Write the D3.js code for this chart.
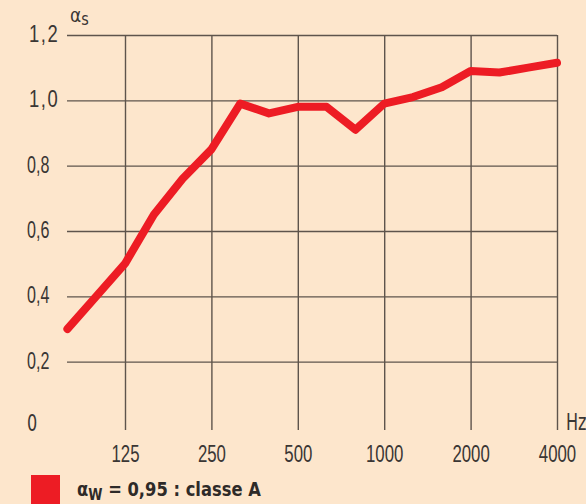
<!DOCTYPE html>
<html>
<head>
<meta charset="utf-8">
<script src="https://cdn.jsdelivr.net/npm/d3@7"></script>
<style>
  html, body { margin: 0; padding: 0; background: #fde6cc; }
  svg { display: block; }
</style>
</head>
<body>
<div id="chart"></div>
<script>
// third-octave bands and the measured alpha_s
const bands = ["80", "100", "125", "160", "200", "250", "315", "400", "500",
  "630", "800", "1000", "1250", "1600", "2000", "2500", "3150", "4000"];
const alphaS = [0.30, 0.40, 0.50, 0.65, 0.76, 0.85, 0.99, 0.96, 0.98,
  0.98, 0.91, 0.99, 1.01, 1.04, 1.09, 1.085, 1.10, 1.115];
const xTicks = ["125", "250", "500", "1000", "2000", "4000"];
const yTicks = [0.2, 0.4, 0.6, 0.8, 1.0, 1.2];
const legendLabel = " = 0,95 : classe A";

const width = 586, height = 504;
const gridColor = "#5e544c";
const textColor = "#3a3634";
const squeeze = "scale(0.7,1)";

const svg = d3.select("#chart").append("svg")
  .attr("width", width)
  .attr("height", height)
  .style("font-family", "'DejaVu Sans', sans-serif");

svg.append("rect")
  .attr("width", width)
  .attr("height", height)
  .attr("fill", "#fde6cc");

const x = d3.scalePoint().domain(bands).range([67.4, 557]);
const y = d3.scaleLinear().domain([0, 1.2]).range([427, 35]);

// horizontal grid + y labels
const yAxis = svg.append("g")
  .attr("transform", "translate(67,0)")
  .call(d3.axisLeft(y).tickValues(yTicks).tickSize(-490)
    .tickFormat(d => d3.format(".1f")(d).replace(".", ",")));
yAxis.select(".domain").remove();
yAxis.selectAll("line").attr("stroke", gridColor).attr("stroke-width", 1.4)
  .attr("x1", 0);
yAxis.selectAll("text")
  .attr("x", null)
  .attr("dy", "0.33em")
  .attr("text-anchor", "start")
  .attr("transform", d => (d >= 1 ? "translate(-38,-1) scale(0.8,1)" : "translate(-40,-1) " + squeeze))
  .style("letter-spacing", d => (d >= 1 ? "2px" : null))
  .attr("fill", textColor)
  .style("font-size", "23px");

// vertical grid + x labels
const xAxis = svg.append("g")
  .attr("transform", "translate(0,430)")
  .call(d3.axisBottom(x).tickValues(xTicks).tickSize(-395));
xAxis.select(".domain").remove();
xAxis.selectAll("line").attr("stroke", gridColor).attr("stroke-width", 1.4);
xAxis.selectAll("text")
  .attr("y", 32)
  .attr("dy", null)
  .attr("transform", squeeze)
  .attr("fill", textColor)
  .style("font-size", "24px");

// zero label, unit labels
svg.append("text")
  .attr("transform", `translate(27,${y(0) - 4}) ${squeeze}`)
  .attr("dy", "0.36em")
  .attr("fill", textColor)
  .style("font-size", "23px")
  .text("0");

svg.append("text")
  .attr("transform", `translate(566,${y(0) - 5}) ${squeeze}`)
  .attr("dy", "0.36em")
  .attr("fill", textColor)
  .style("font-size", "23px")
  .text("Hz");

const aLabel = svg.append("text")
  .attr("transform", "translate(70,22) scale(0.85,1)")
  .attr("fill", textColor)
  .style("font-size", "20px");
aLabel.append("tspan").text("α");
aLabel.append("tspan").attr("dy", 3).style("font-size", "17px").text("s");

// the curve
const line = d3.line()
  .x((d, i) => x(bands[i]))
  .y(d => y(d));

svg.append("path")
  .datum(alphaS)
  .attr("d", line)
  .attr("fill", "none")
  .attr("stroke", "#ed1c24")
  .attr("stroke-width", 8)
  .attr("stroke-linejoin", "round")
  .attr("stroke-linecap", "round");

// legend
svg.append("rect")
  .attr("x", 31)
  .attr("y", 475)
  .attr("width", 29)
  .attr("height", 30)
  .attr("fill", "#ed1c24");

const leg = svg.append("text")
  .attr("transform", "translate(77,496) scale(0.86,1)")
  .attr("fill", "#2e2a28")
  .style("font-size", "19px")
  .style("font-weight", "bold");
leg.append("tspan").text("α");
leg.append("tspan").attr("dy", 4).style("font-size", "15px").text("W");
leg.append("tspan").attr("dy", -4).text(legendLabel);
</script>
</body>
</html>
